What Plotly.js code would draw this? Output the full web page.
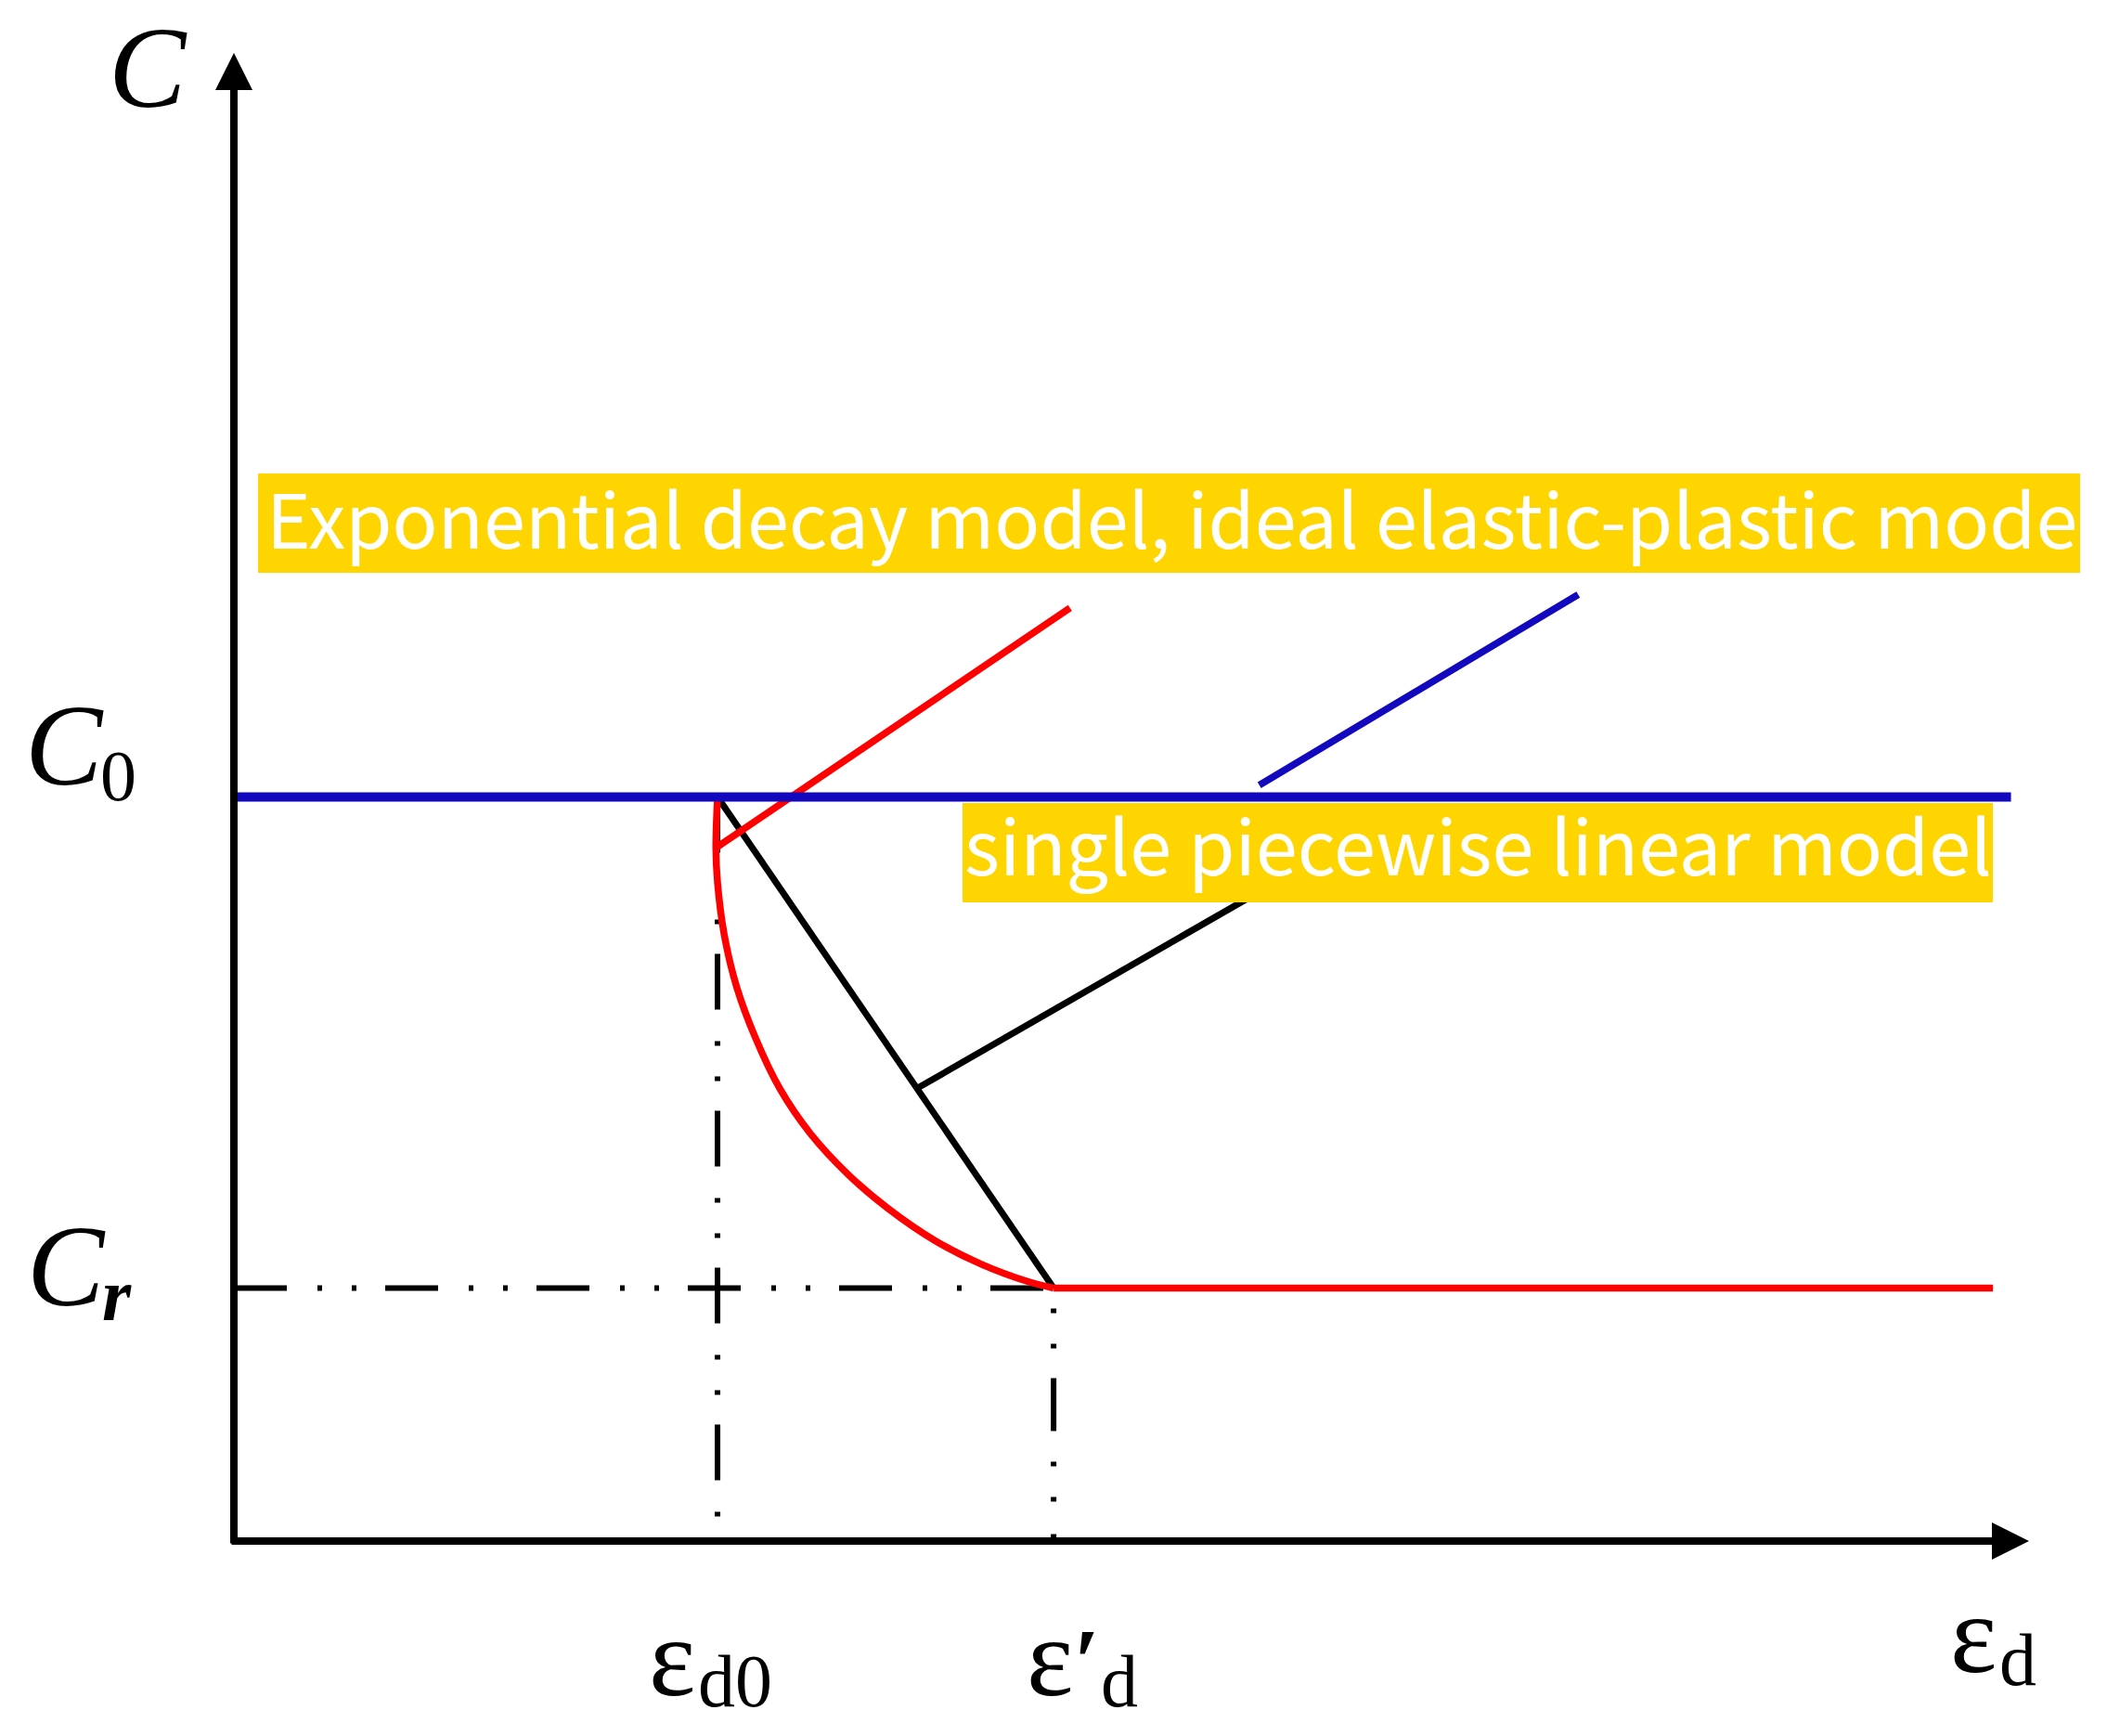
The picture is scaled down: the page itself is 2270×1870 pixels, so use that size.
<!DOCTYPE html>
<html>
<head>
<meta charset="utf-8">
<script src="https://cdn.plot.ly/plotly-3.0.1.min.js"></script>
<style>
	html, body { margin: 0; padding: 0; background: #fff; }
	#chart { width: 2270px; height: 1870px; }
</style>
</head>
<body>
<div id="chart"></div>
<script>
(function () {

	'use strict';

	/**
	* Key values (schematic units: C relative to C0, strain relative to eps'_d)
	*/
	const C0 = 1.0;
	const Cr = 0.34;
	const epsD0 = 0.59;
	const epsD1 = 1.0;

	// exponential decay curve
	const expX = [0.59, 0.588, 0.590, 0.598, 0.613, 0.636, 0.666, 0.703, 0.749, 0.798, 0.855, 0.912, 0.968, 1.0];
	const expY = [1.0, 0.931, 0.885, 0.816, 0.746, 0.677, 0.608, 0.548, 0.493, 0.447, 0.404, 0.372, 0.349, 0.34];

	// residual plateau after eps'_d
	const residualX = [epsD1, 2.146];
	const residualY = [Cr, Cr];

	// ideal elastic-plastic: constant C0
	const idealX = [0, 2.168];
	const idealY = [C0, C0];

	// single piecewise linear: C0 -> Cr between eps_d0 and eps'_d
	const linearX = [epsD0, epsD1];
	const linearY = [C0, Cr];

	// leader lines running up to the model labels
	const blackLeadX = [0.836, 1.40];
	const blackLeadY = [0.610, 0.967];
	const redLeadX = [0.590, 1.020];
	const redLeadY = [0.933, 1.254];
	const blueLeadX = [1.251, 1.640];
	const blueLeadY = [1.016, 1.272];

	// label texts
	const modelLabels = [
		'Exponential decay model, ideal elastic-plastic model',
		'single piecewise linear model'
	];

	/**
	* Page frame: origin of the axes and plot size in px
	*/
	const W = 2270, H = 1870;
	const M = { l: 252, r: 84, t: 57, b: 210 };
	const plotW = W - M.l - M.r;
	const plotH = H - M.t - M.b;
	const xMax = 2.19, yMax = 2.0;

	const px2paperX = ( px ) => ( px - M.l ) / plotW;
	const px2paperY = ( py ) => ( H - M.b - py ) / plotH;

	const BLACK = '#000000';
	const RED = '#ff0000';
	const BLUE = '#1208bd';
	const GOLD = '#ffd500';
	const SERIF = '"Liberation Serif", "Times New Roman", serif';
	const SANS = '"Noto Sans CJK SC", "Source Sans Pro", "Noto Sans", sans-serif';

	/**
	* line trace helper
	*/
	const lineTrace = ( x, y, color, width, dash, shape ) => ({
		x: x,
		y: y,
		type: 'scatter',
		mode: 'lines',
		hoverinfo: 'skip',
		showlegend: false,
		line: { color: color, width: width, dash: dash || 'solid', shape: shape || 'linear', smoothing: 1 }
	});

	const data = [
		// guide lines
		lineTrace( [0, epsD1], [Cr, Cr], BLACK, 6, '57px,33px,5px,32px,5px,31px' ),
		lineTrace( [epsD0, epsD0], [C0, 0], BLACK, 6, '60px,34px,5px,33px,5px,32px' ),
		lineTrace( [epsD1, epsD1], [Cr, 0], BLACK, 6, '0px,22px,5px,33px,5px,32px,57px,33px,5px,33px,5px,35px,5px,50px' ),
		// single piecewise linear
		lineTrace( linearX, linearY, BLACK, 7 ),
		lineTrace( blackLeadX, blackLeadY, BLACK, 7 ),
		// exponential decay
		lineTrace( expX, expY, RED, 7.5, 'solid', 'spline' ),
		lineTrace( residualX, residualY, RED, 7.5 ),
		lineTrace( redLeadX, redLeadY, RED, 7.5 ),
		// ideal elastic-plastic
		lineTrace( idealX, idealY, BLUE, 10 ),
		lineTrace( blueLeadX, blueLeadY, BLUE, 7.5 )
	];

	/**
	* serif math labels (anchored on the values they mark, shifted in px)
	*/
	const mathLabel = ( text, size, xref, x, yref, y, dx, dy ) => ({
		text: text,
		xref: xref, x: x,
		yref: yref, y: y,
		xanchor: 'center', yanchor: 'middle',
		xshift: dx, yshift: dy,
		showarrow: false,
		font: { family: SERIF, size: size, color: BLACK }
	});

	const mathLabels = [
		mathLabel( '<i>C</i>', 125, 'paper', 0, 'paper', 1, -93, -16 ),
		mathLabel( '<i>C</i>', 125, 'paper', 0, 'y', C0, -183, 55.5 ),
		mathLabel( '0', 78, 'paper', 0, 'y', C0, -124.5, 22.8 ),
		mathLabel( '<i>C</i>', 125, 'paper', 0, 'y', Cr, -180.5, 23.7 ),
		mathLabel( '<b><i>r</i></b>', 80, 'paper', 0, 'y', Cr, -126, -7.5 ),
		mathLabel( 'ε', 120, 'x', epsD0, 'paper', 0, -49, -125.5 ),
		mathLabel( 'd0', 80, 'x', epsD0, 'paper', 0, 19, -151 ),
		mathLabel( 'ε', 120, 'x', epsD1, 'paper', 0, -4, -125.5 ),
		mathLabel( '<b>′</b>', 100, 'x', epsD1, 'paper', 0, 36, -129 ),
		mathLabel( 'd', 80, 'x', epsD1, 'paper', 0, 71, -151 ),
		mathLabel( 'ε', 120, 'paper', 1, 'paper', 0, -60, -100.5 ),
		mathLabel( 'd', 80, 'paper', 1, 'paper', 0, -12, -128 )
	];

	/**
	* model name labels: white text on gold boxes
	*/
	const textLabels = [
		{
			text: modelLabels[0],
			xref: 'paper', x: px2paperX( 286 ), xanchor: 'left',
			yref: 'paper', y: px2paperY( 555 ), yanchor: 'middle',
			width: 2241 - 286, align: 'left', borderpad: 0,
			showarrow: false,
			font: { family: SANS, size: 81, color: '#ffffff' }
		},
		{
			text: modelLabels[1],
			xref: 'paper', x: px2paperX( 1592 ), xanchor: 'center',
			yref: 'paper', y: px2paperY( 908 ), yanchor: 'middle',
			borderpad: 0,
			showarrow: false,
			font: { family: SANS, size: 81, color: '#ffffff' }
		}
	];

	const boxes = [
		{ x0: 278, x1: 2241, y0: 510, y1: 617 },
		{ x0: 1037, x1: 2147, y0: 865, y1: 972 }
	].map(( b ) => ({
		type: 'rect',
		xref: 'paper', yref: 'paper',
		x0: px2paperX( b.x0 ), x1: px2paperX( b.x1 ),
		y0: px2paperY( b.y1 ), y1: px2paperY( b.y0 ),
		fillcolor: GOLD,
		line: { width: 0 },
		layer: 'above'
	}));

	/**
	* axes drawn as arrows from the origin
	*/
	const axisArrows = [
		{
			xref: 'paper', x: 1, yref: 'paper', y: 0,
			axref: 'pixel', ayref: 'pixel', ax: -( plotW + 4 ), ay: 0,
			text: '', showarrow: true, arrowhead: 2, arrowsize: 1.0, arrowwidth: 8, arrowcolor: BLACK
		},
		{
			xref: 'paper', x: 0, yref: 'paper', y: 1,
			axref: 'pixel', ayref: 'pixel', ax: 0, ay: plotH + 4,
			text: '', showarrow: true, arrowhead: 2, arrowsize: 1.0, arrowwidth: 8, arrowcolor: BLACK
		}
	];

	const hiddenAxis = ( range ) => ({
		range: range,
		showgrid: false,
		zeroline: false,
		showline: false,
		showticklabels: false,
		ticks: '',
		fixedrange: true
	});

	const layout = {
		width: W,
		height: H,
		margin: M,
		paper_bgcolor: '#ffffff',
		plot_bgcolor: '#ffffff',
		showlegend: false,
		hovermode: false,
		xaxis: hiddenAxis( [0, xMax] ),
		yaxis: hiddenAxis( [0, yMax] ),
		shapes: boxes,
		annotations: axisArrows.concat( mathLabels, textLabels )
	};

	Plotly.newPlot( 'chart', data, layout, { displayModeBar: false, staticPlot: true } );

})();
</script>
</body>
</html>
